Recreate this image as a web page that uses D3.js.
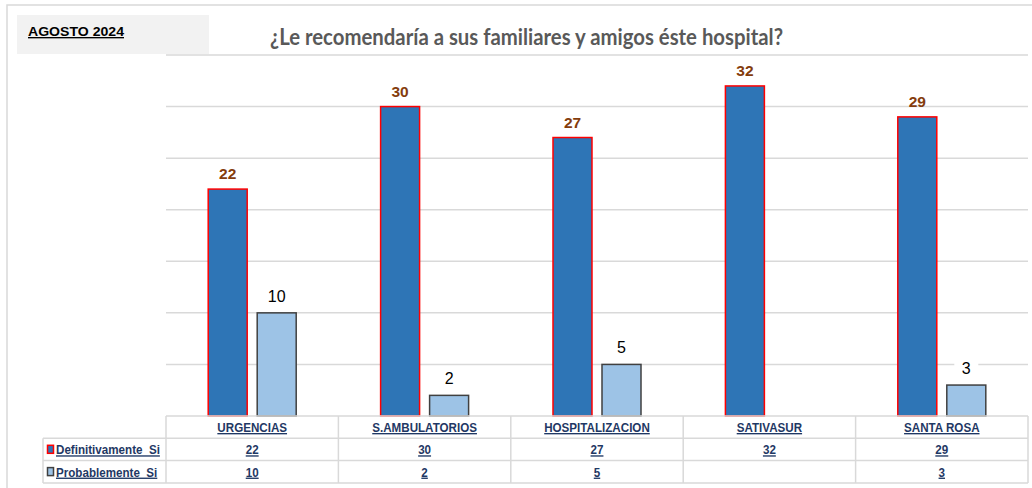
<!DOCTYPE html>
<html>
<head>
<meta charset="utf-8">
<script src="https://cdn.jsdelivr.net/npm/d3@7"></script>
<style>
  body { margin: 0; background: #fff; }
  svg { display: block; }
</style>
</head>
<body>
<svg id="ch" width="1032" height="488"></svg>
<script>
const categories = ["URGENCIAS", "S.AMBULATORIOS", "HOSPITALIZACION", "SATIVASUR", "SANTA ROSA"];
const seriesNames = ["Definitivamente  Si", "Probablemente  Si"];
const definitivamente = [22, 30, 27, 32, 29];
const probablemente = [10, 2, 5, null, 3];
const yTicks = [5, 10, 15, 20, 25, 30, 35];

const W = 1032, H = 488;
const pL = 166, pR = 1028, pT = 55, base = 416;
const rowH = 22.3;
const navy = "#1f3864", grid = "#d9d9d9";

const svg = d3.select("#ch");

// outer frame
svg.append("path").attr("d", `M7,${H} L7,5 L${W},5`).attr("fill", "none").attr("stroke", grid).attr("stroke-width", 1.5);

// header box
svg.append("rect").attr("x", 17).attr("y", 15).attr("width", 192).attr("height", 39).attr("fill", "#f2f2f2");
svg.append("text").attr("x", 28).attr("y", 36).attr("font-family", "Liberation Sans, Arial").attr("font-weight", "bold")
  .attr("font-size", 13.5).attr("textLength", 96).attr("lengthAdjust", "spacingAndGlyphs")
  .attr("text-decoration", "underline").attr("fill", "#000").text("AGOSTO 2024");

svg.append("text").attr("x", 270).attr("y", 45).attr("font-family", "Lato, Carlito, sans-serif").attr("font-weight", "bold")
  .attr("font-size", 22).attr("fill", "#595959").attr("textLength", 513).attr("lengthAdjust", "spacingAndGlyphs")
  .text("¿Le recomendaría a sus familiares y amigos éste hospital?");

const x = d3.scaleBand().domain(categories).range([pL, pR]);
const y = d3.scaleLinear().domain([0, 35]).range([base, pT]);

// gridlines
svg.append("g").selectAll("line").data(yTicks).join("line")
  .attr("x1", pL).attr("x2", pR).attr("y1", d => y(d)).attr("y2", d => y(d))
  .attr("stroke", grid).attr("stroke-width", 1.5);

const barW = 39, gap = 10;
const bx0 = c => x(c) + x.bandwidth() / 2 - gap / 2 - barW;
const bx1 = c => x(c) + x.bandwidth() / 2 + gap / 2;

const d0 = categories.map((c, i) => ({ c, v: definitivamente[i] }));
const d1 = categories.map((c, i) => ({ c, v: probablemente[i] })).filter(d => d.v != null);

svg.append("g").selectAll("rect").data(d0).join("rect")
  .attr("x", d => bx0(d.c)).attr("width", barW).attr("y", d => y(d.v)).attr("height", d => base - y(d.v))
  .attr("fill", "#2e75b6").attr("stroke", "#ff0000").attr("stroke-width", 1.5);

svg.append("g").selectAll("rect").data(d1).join("rect")
  .attr("x", d => bx1(d.c)).attr("width", barW).attr("y", d => y(d.v)).attr("height", d => base - y(d.v))
  .attr("fill", "#9dc3e6").attr("stroke", "#404040").attr("stroke-width", 1.5);

// labels
svg.append("g").selectAll("text").data(d0).join("text")
  .attr("x", d => bx0(d.c) + barW / 2).attr("y", d => y(d.v) - 10).attr("text-anchor", "middle")
  .attr("font-family", "Liberation Sans, Arial").attr("font-weight", "bold").attr("font-size", 15.5)
  .attr("fill", "#843c0c").text(d => d.v);

const lb = svg.append("g").selectAll("g").data(d1).join("g")
  .attr("transform", d => `translate(${bx1(d.c) + barW / 2},${y(d.v) - 17})`);
lb.append("rect").attr("x", -12).attr("y", -10).attr("width", 24).attr("height", 20).attr("fill", "#fff");
lb.append("text").attr("y", 6).attr("text-anchor", "middle").attr("font-family", "Liberation Sans, Arial")
  .attr("font-size", 16).attr("fill", "#000").text(d => d.v);

// data table
const tb = svg.append("g").attr("stroke", grid).attr("stroke-width", 1.5).attr("fill", "none");
tb.append("line").attr("x1", pL).attr("x2", pR).attr("y1", base).attr("y2", base);
[1, 2, 3].forEach(r => tb.append("line").attr("x1", 43).attr("x2", pR)
  .attr("y1", base + r * rowH).attr("y2", base + r * rowH));
tb.append("line").attr("x1", 43).attr("x2", 43).attr("y1", base + rowH).attr("y2", base + 3 * rowH);
tb.selectAll(".v").data([...categories.map(c => x(c)), pR]).join("line")
  .attr("x1", d => d).attr("x2", d => d).attr("y1", base).attr("y2", base + 3 * rowH);

// narrow bold text, like the Excel data table
const txt = (g) => g.attr("font-family", "Liberation Sans, Arial").attr("font-weight", "bold").attr("font-size", 13.5)
  .attr("fill", navy).attr("text-decoration", "underline");
const squeeze = (sel) => sel.each(function () {
  const w = this.getComputedTextLength();
  if (w > 0) d3.select(this).attr("textLength", w * 0.86).attr("lengthAdjust", "spacingAndGlyphs");
});

svg.append("g").selectAll("text").data(categories).join("text").call(txt)
  .attr("x", d => x(d) + x.bandwidth() / 2).attr("y", base + 16).attr("text-anchor", "middle").text(d => d).call(squeeze);

[definitivamente, probablemente].forEach((vals, r) => {
  svg.append("g").selectAll("text").data(categories).join("text").call(txt)
    .attr("x", d => x(d) + x.bandwidth() / 2).attr("y", base + (r + 1) * rowH + 16).attr("text-anchor", "middle")
    .text((d, i) => vals[i] == null ? "" : vals[i]).call(squeeze);
});

// legend keys
const keyFill = ["#2e75b6", "#9dc3e6"], keyStroke = ["#ff0000", "#404040"];
seriesNames.forEach((n, r) => {
  const yy = base + (r + 1) * rowH;
  svg.append("rect").attr("x", 47.5).attr("y", yy + 7).attr("width", 6).attr("height", 8)
    .attr("fill", keyFill[r]).attr("stroke", keyStroke[r]).attr("stroke-width", 1.5);
  svg.append("text").call(txt).attr("x", 56).attr("y", yy + 16)
    .style("white-space", "pre").text(n).call(squeeze);
});
</script>
</body>
</html>
